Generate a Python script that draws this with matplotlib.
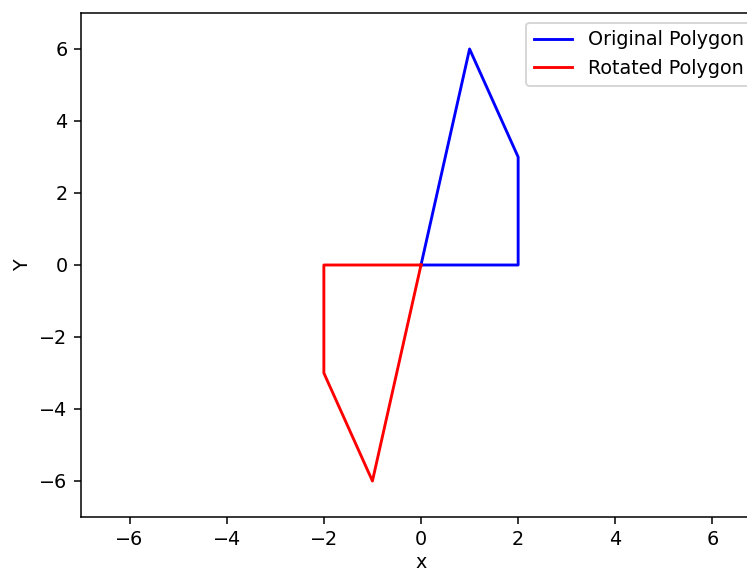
import matplotlib
matplotlib.use("Agg")
import matplotlib.pyplot as plt

orig_x = [0, 1, 2, 2, 0]
orig_y = [0, 6, 3, 0, 0]
rot_x = [0, -1, -2, -2, 0]
rot_y = [0, -6, -3, 0, 0]

dpi = 138
fig = plt.figure(figsize=(747/dpi, 569/dpi), dpi=dpi)
ax = fig.add_axes([81/747, 52/569, 680/747, 504/569])
ax.plot(orig_x, orig_y, color='blue', label='Original Polygon')
ax.plot(rot_x, rot_y, color='red', label='Rotated Polygon')
ax.set_xlim(-7, 7)
ax.set_ylim(-7, 7)
ax.set_xlabel('x', labelpad=2)
ax.set_ylabel('Y')
ax.legend(loc='upper right')
fig.savefig('out.png', dpi=dpi)
